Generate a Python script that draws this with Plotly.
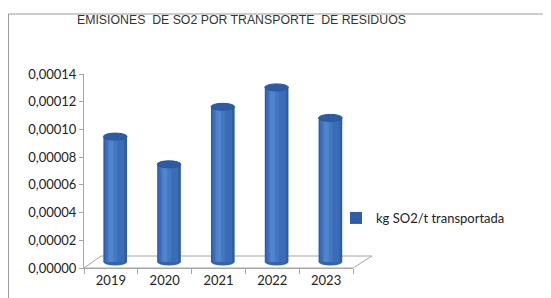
import plotly.graph_objects as go

years = ["2019", "2020", "2021", "2022", "2023"]
values = [0.0000905, 0.0000705, 0.000112, 0.000126, 0.000104]
series_name = "kg SO2/t transportada"
title_text = "EMISIONES\u00a0 DE SO2 POR TRANSPORTE\u00a0 DE RESIDUOS"
y_ticks = [0, 0.00002, 0.00004, 0.00006, 0.00008, 0.00010, 0.00012, 0.00014]

OFF = 8                      # page body margin
W, H = 551 - OFF, 298 - OFF
L, R, T, B = 84 - OFF, 198, 74 - OFF, 30
PW, PH = W - L - R, H - T - B


def px(x):
    return (x - OFF - L) / PW


def py(y):
    return (H - B - (y - OFF)) / PH


YMAX = 0.00014
DEPTH = YMAX * 6 / PH          # lift of bar base (3D floor depth)
BW = 0.44                      # bar width (category units)
SHIFT = 0.08                   # depth shift to the right
EH = YMAX * 7 / PH             # ellipse height in data units

fig = go.Figure()

layers = [
    (0.0, BW, "#2F5EA6"),
    (0.03, BW - 0.08, "#3A6CB8"),
    (0.07, 0.19, "#4477C2"),
    (0.10, 0.09, "#5084CB"),
]
for k, (off, w, col) in enumerate(layers):
    fig.add_trace(go.Bar(
        x=years, y=values, base=DEPTH, width=w,
        offset=-BW / 2 + SHIFT + off,
        marker=dict(color=col, line=dict(width=0)),
        name=series_name, showlegend=(k == 0),
        hoverinfo="skip" if k else None,
    ))

shapes = []
for i, v in enumerate(values):
    x0 = i - BW / 2 + SHIFT
    x1 = x0 + BW
    # bottom ellipse
    shapes.append(dict(type="circle", xref="x", yref="y", x0=x0, x1=x1,
                       y0=DEPTH - EH / 2, y1=DEPTH + EH / 2,
                       fillcolor="#3363AE", line=dict(width=0), layer="below"))
    # top ellipse
    top = DEPTH + v
    shapes.append(dict(type="circle", xref="x", yref="y", x0=x0, x1=x1,
                       y0=top - EH / 2, y1=top + EH / 2,
                       fillcolor="#2D5CA5", line=dict(color="#2A5599", width=1)))

# floor (3D base)
floor_pts = [(84, 268), (353, 268), (372, 256), (101, 256)]
path = "M " + " L ".join(f"{px(a)},{py(b)}" for a, b in floor_pts) + " Z"
shapes.append(dict(type="path", xref="paper", yref="paper", path=path,
                   fillcolor="white", line=dict(color="#A6A6A6", width=1),
                   layer="below"))
# chart frame
shapes.append(dict(type="line", xref="paper", yref="paper",
                   x0=px(8.5), x1=px(560), y0=py(14), y1=py(14),
                   line=dict(color="#9A9A9A", width=1)))
shapes.append(dict(type="line", xref="paper", yref="paper",
                   x0=px(8.5), x1=px(8.5), y0=py(14), y1=py(300),
                   line=dict(color="#9A9A9A", width=1)))

fig.update_layout(
    width=W, height=H,
    margin=dict(l=L, r=R, t=T, b=B, autoexpand=False),
    paper_bgcolor="white", plot_bgcolor="white",
    barmode="overlay",
    separators=",.",
    shapes=shapes,
    title=dict(text=title_text, x=(77 - OFF) / W, xref="container", xanchor="left",
               y=1 - (20 - OFF) / H, yref="container", yanchor="middle",
               pad=dict(l=0, r=0, t=0, b=0),
               font=dict(family="Liberation Sans, Arial", size=12.3, color="#333333")),
    legend=dict(x=px(336), y=py(218), xanchor="left", yanchor="middle",
                font=dict(family="Lato, Open Sans", size=13, color="#222222"),
                bgcolor="rgba(0,0,0,0)"),
    xaxis=dict(type="category", showline=True, linecolor="#A6A6A6",
               ticks="outside", tickson="boundaries", ticklen=5,
               tickcolor="#A6A6A6", showgrid=False, zeroline=False,
               automargin=False,
               tickfont=dict(family="Lato, Open Sans", size=13, color="#222222"),
               range=[-0.5, 4.5]),
    yaxis=dict(range=[0, YMAX], tickvals=y_ticks, tickformat=".5f",
               showline=True, linecolor="#A6A6A6", ticks="outside",
               ticklen=4, tickcolor="#A6A6A6", showgrid=False, zeroline=False,
               automargin=False,
               tickfont=dict(family="Lato, Open Sans", size=13, color="#222222")),
)

fig.write_html("out.html")
